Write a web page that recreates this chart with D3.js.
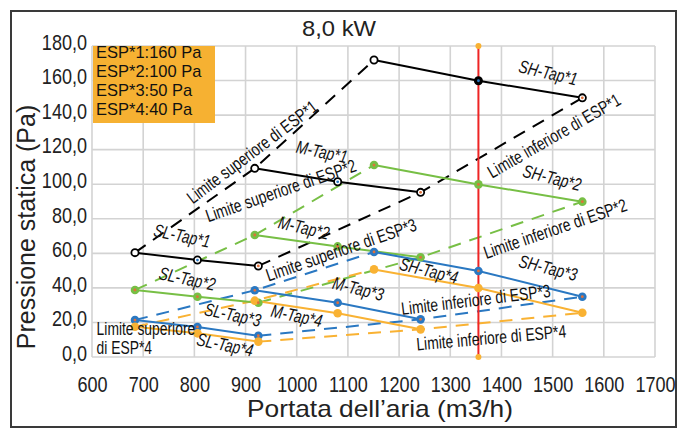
<!DOCTYPE html>
<html>
<head>
<meta charset="utf-8">
<script src="https://cdn.jsdelivr.net/npm/d3@7"></script>
<style>
body { margin: 0; background: #fff; }
svg { display: block; font-family: "Liberation Sans", Arial, sans-serif; }
</style>
</head>
<body>
<svg width="689" height="428"></svg>
<script>
// air flow (m3/h) of the three points of each tap
const flowSL = [684, 806, 925];
const flowM = [918, 1080, 1242];
const flowSH = [1151, 1355, 1558];

// static pressure (Pa)
const esp1SL = [60.4, 56.1, 52.7];
const esp1M = [109.2, 101.4, 95.3];
const esp1SH = [171.9, 159.9, 150.0];
const esp2SL = [38.8, 34.9, 31.4];
const esp2M = [70.6, 64.0, 57.7];
const esp2SH = [111.1, 99.9, 89.9];
const esp3SL = [21.4, 17.4, 12.3];
const esp3M = [38.6, 31.4, 21.8];
const esp3SH = [60.8, 49.8, 34.9];
const esp4SL = [17.5, 13.7, 8.9];
const esp4M = [32.6, 25.3, 16.0];
const esp4SH = [50.7, 39.9, 25.6];

const espNames = ["ESP*1", "ESP*2", "ESP*3", "ESP*4"];
const espLegend = ["ESP*1:160 Pa", "ESP*2:100 Pa", "ESP*3:50 Pa", "ESP*4:40 Pa"];
const ratedFlow = 1355;

const xTicks = [600, 700, 800, 900, 1000, 1100, 1200, 1300, 1400, 1500, 1600, 1700];
const yTicks = [0, 20, 40, 60, 80, 100, 120, 140, 160, 180];

const title = "8,0 kW";
const xTitle = "Portata dell\u2019aria (m3/h)";
const yTitle = "Pressione statica (Pa)";

// annotation layout (data coordinates + angle)
const notes = [
    {t: "Limite superiore di ESP*1", x: 913, y: 118.6, a: -37, k: "lim"},
    {t: "M-Tap*1", x: 1049, y: 118.6, a: 12, k: "tap"},
    {t: "SH-Tap*1", x: 1491, y: 164.4, a: 13, k: "tap"},
    {t: "Limite inferiore di ESP*1", x: 1503, y: 127.9, a: -30, k: "lim"},
    {t: "Limite superiore di ESP*2", x: 969, y: 96.2, a: -19, k: "lim"},
    {t: "M-Tap*2", x: 1014, y: 74.7, a: 13, k: "tap"},
    {t: "SH-Tap*2", x: 1499, y: 103.6, a: 14, k: "tap"},
    {t: "Limite inferiore di ESP*2", x: 1505, y: 74.1, a: -19, k: "lim"},
    {t: "SL-Tap*1", x: 776, y: 70, a: 12, k: "tap"},
    {t: "Limite superiore di ESP*3", x: 1087, y: 61.9, a: -19, k: "lim"},
    {t: "SL-Tap*2", x: 786, y: 45.1, a: 12, k: "tap"},
    {t: "SL-Tap*3", x: 875, y: 24.3, a: 12, k: "tap"},
    {t: "M-Tap*4", x: 1000, y: 23.7, a: 12, k: "tap"},
    {t: "M-Tap*3", x: 1120, y: 39.4, a: 14, k: "tap"},
    {t: "SL-Tap*4", x: 860, y: 6.9, a: 12, k: "tap"},
    {t: "SH-Tap*4", x: 1258, y: 49.8, a: 14, k: "tap"},
    {t: "SH-Tap*3", x: 1491, y: 51.5, a: 14, k: "tap"},
    {t: "Limite inferiore di ESP*3", x: 1350, y: 33, a: -7, k: "lim"},
    {t: "Limite inferiore di ESP*4", x: 1380, y: 11, a: -5, k: "lim"}
];

const colors = ["#000000", "#77bf45", "#2a78c2", "#f9b233"];

let svg = d3.select("svg"),
    margin = {top: 46, right: 34, bottom: 71, left: 92},
    width = +svg.attr("width") - margin.left - margin.right,
    height = +svg.attr("height") - margin.top - margin.bottom;

let x = d3.scaleLinear().domain([600, 1700]).range([0, width]),
    y = d3.scaleLinear().domain([0, 180]).range([height, 0]);

let itFormat = d3.formatLocale({decimal: ",", thousands: ".", grouping: [3], currency: ["", "\u20ac"]}).format(".1f");

function condense(sel, k) {
    sel.each(function () {
        const w = this.getComputedTextLength();
        d3.select(this).attr("textLength", w * k).attr("lengthAdjust", "spacingAndGlyphs");
    });
}

// build series
const pressures = [[esp1SL, esp1M, esp1SH], [esp2SL, esp2M, esp2SH], [esp3SL, esp3M, esp3SH], [esp4SL, esp4M, esp4SH]];
const flows = [flowSL, flowM, flowSH];
let taps = [], limits = [];
pressures.forEach((row, e) => {
    row.forEach((p, t) => {
        taps.push({esp: e, pts: p.map((v, i) => ({f: flows[t][i], p: v, i: i}))});
    });
    limits.push({esp: e, pts: row.map((p, t) => ({f: flows[t][0], p: p[0]}))});
    limits.push({esp: e, pts: row.map((p, t) => ({f: flows[t][2], p: p[2]}))});
});

// outer frame
svg.append("rect")
    .attr("x", 11).attr("y", 11)
    .attr("width", 665).attr("height", 416)
    .attr("fill", "#fff")
    .attr("stroke", "#3a3a3a")
    .attr("stroke-width", 2);

svg.append("text")
    .attr("x", 339).attr("y", 36)
    .attr("text-anchor", "middle")
    .attr("font-size", 22)
    .attr("fill", "#222")
    .attr("textLength", 74)
    .attr("lengthAdjust", "spacingAndGlyphs")
    .text(title);

let g = svg.append("g").attr("transform", "translate(" + margin.left + "," + margin.top + ")");

// grid
g.append("g").selectAll("line").data(xTicks).join("line")
    .attr("x1", d => x(d)).attr("x2", d => x(d))
    .attr("y1", 0).attr("y2", height)
    .attr("stroke", "#d3d3d3").attr("stroke-width", 1.6);
g.append("g").selectAll("line").data(yTicks).join("line")
    .attr("x1", 0).attr("x2", width)
    .attr("y1", d => y(d)).attr("y2", d => y(d))
    .attr("stroke", "#d3d3d3").attr("stroke-width", 1.6);

// axes (labels only)
let xAxis = g.append("g")
    .attr("transform", "translate(0," + height + ")")
    .call(d3.axisBottom(x).tickValues(xTicks).tickSize(0).tickFormat(d3.format("d")));
xAxis.select(".domain").remove();
xAxis.selectAll("text")
    .attr("y", 0).attr("dy", 35)
    .attr("font-size", 22).attr("fill", "#222")
    .attr("font-family", "Liberation Sans, Arial, sans-serif")
    .call(condense, 0.82);

let yAxis = g.append("g")
    .call(d3.axisLeft(y).tickValues(yTicks).tickSize(0).tickPadding(5).tickFormat(itFormat));
yAxis.select(".domain").remove();
yAxis.selectAll("text")
    .attr("dy", "0.15em")
    .attr("font-size", 22).attr("fill", "#222")
    .attr("font-family", "Liberation Sans, Arial, sans-serif")
    .call(condense, 0.82);

svg.append("text")
    .attr("x", 380).attr("y", 417)
    .attr("text-anchor", "middle")
    .attr("font-size", 24).attr("fill", "#222")
    .attr("textLength", 266)
    .attr("lengthAdjust", "spacingAndGlyphs")
    .text(xTitle);
svg.append("text")
    .attr("transform", "translate(35,227) rotate(-90)")
    .attr("text-anchor", "middle")
    .attr("font-size", 25).attr("fill", "#222")
    .text(yTitle);

let line = d3.line().x(d => x(d.f)).y(d => y(d.p));

// limit lines (dashed)
g.append("g").selectAll("path").data(limits).join("path")
    .attr("d", d => line(d.pts))
    .attr("fill", "none")
    .attr("stroke", d => colors[d.esp])
    .attr("stroke-width", 2)
    .attr("stroke-dasharray", "13,9");

// rated flow line
g.append("line")
    .attr("x1", x(ratedFlow)).attr("x2", x(ratedFlow))
    .attr("y1", y(0)).attr("y2", y(180))
    .attr("stroke", "#ee2424").attr("stroke-width", 2);
g.append("g").selectAll("circle").data([0, 180]).join("circle")
    .attr("cx", x(ratedFlow)).attr("cy", d => y(d))
    .attr("r", 3).attr("fill", "#f9b233");

// tap curves
g.append("g").selectAll("path").data(taps).join("path")
    .attr("d", d => line(d.pts))
    .attr("fill", "none")
    .attr("stroke", d => colors[d.esp])
    .attr("stroke-width", 2);

// markers
let pts = taps.flatMap(d => d.pts.map(p => Object.assign({esp: d.esp}, p)));
g.append("g").selectAll("circle").data(pts).join("circle")
    .attr("cx", d => x(d.f)).attr("cy", d => y(d.p))
    .attr("r", d => d.esp === 0 ? 3.6 : 4.3)
    .attr("fill", d => d.esp === 0 ? (d.f === ratedFlow ? "#000" : "#fff") : colors[d.esp])
    .attr("stroke", d => d.esp === 0 ? "#000" : "none")
    .attr("stroke-width", 1.8);
g.append("g").selectAll("circle").data(pts.filter(d => d.esp !== 3 && !(d.esp === 0 && d.i === 0))).join("circle")
    .attr("cx", d => x(d.f)).attr("cy", d => y(d.p))
    .attr("r", 1.4)
    .attr("fill", d => d.esp === 0 && d.i === 1 ? "#2a78c2" : "#e0703a");

// legend box
svg.append("rect")
    .attr("x", 93).attr("y", 46)
    .attr("width", 122).attr("height", 77)
    .attr("fill", "#f6b132");
svg.append("g").selectAll("text").data(espLegend).join("text")
    .attr("x", 96).attr("y", (d, i) => 58 + i * 19)
    .attr("font-size", 17).attr("fill", "#111")
    .text(d => d)
    .call(condense, 0.97);

// annotations
g.append("g").selectAll("text").data(notes).join("text")
    .attr("transform", d => "translate(" + x(d.x) + "," + y(d.y) + ") rotate(" + d.a + ")")
    .attr("text-anchor", "middle")
    .attr("dominant-baseline", "central")
    .attr("font-size", 18)
    .attr("font-style", d => d.k === "tap" ? "italic" : "normal")
    .attr("fill", "#111")
    .text(d => d.t)
    .call(condense, 0.77);

g.append("g").selectAll("text").data(["Limite superiore", "di " + espNames[3]]).join("text")
    .attr("x", x(609)).attr("y", (d, i) => y(12.7) + i * 19)
    .attr("font-size", 18).attr("fill", "#111")
    .text(d => d)
    .call(condense, 0.77);
</script>
</body>
</html>
